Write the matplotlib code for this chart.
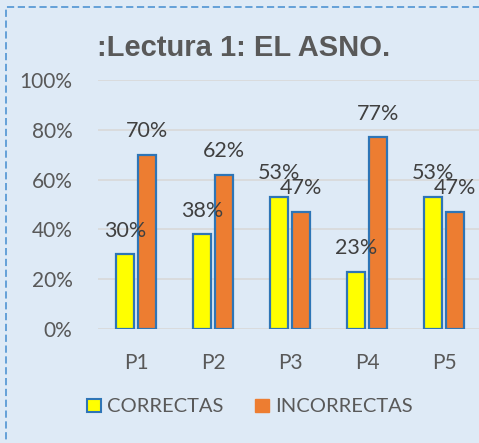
import matplotlib.pyplot as plt
from matplotlib.patches import Rectangle, Patch
import numpy as np

categorias = ["P1", "P2", "P3", "P4", "P5"]
correctas = [0.30, 0.38, 0.53, 0.23, 0.53]
incorrectas = [0.70, 0.62, 0.47, 0.77, 0.47]
yticks = [0, 0.2, 0.4, 0.6, 0.8, 1.0]

bg = "#DEEAF6"
amarillo = "#FFFF00"
naranja = "#ED7D31"
borde = "#2E75B6"
gris = "#595959"
fuente = "Lato"

W, H = 479, 443
fig = plt.figure(figsize=(W / 100, H / 100), dpi=100)
fig.patch.set_facecolor(bg)

# dashed frame (right/bottom fall outside the picture)
fig.add_artist(Rectangle((6 / W, -0.05), 1.1, (H - 7) / H + 0.05,
                         transform=fig.transFigure, fill=False,
                         edgecolor="#5B9BD5", linestyle=(0, (4, 2)), linewidth=1.3))

ax = fig.add_axes([97.5 / W, 114 / H, 385 / W, 249 / H])
ax.set_facecolor(bg)

x = np.arange(len(categorias))
bw = 0.234
off = 0.143
ax.bar(x - off, correctas, bw, color=amarillo, edgecolor=borde, linewidth=1.6, zorder=3)
ax.bar(x + off, incorrectas, bw, color=naranja, edgecolor=borde, linewidth=1.6, zorder=3)

for xi, v in zip(x - off, correctas):
    ax.annotate(f"{v:.0%}", (xi, v), xytext=(0, 17), textcoords="offset points",
                ha="center", va="center", fontsize=15.5, color="#404040", family=fuente)
for xi, v in zip(x + off, incorrectas):
    ax.annotate(f"{v:.0%}", (xi, v), xytext=(0, 17), textcoords="offset points",
                ha="center", va="center", fontsize=15.5, color="#404040", family=fuente)

ax.set_xlim(-0.5, 4.5)
ax.set_ylim(0, 1)
ax.set_yticks(yticks)
ax.set_yticklabels([f"{t:.0%}" for t in yticks])
ax.set_xticks(x)
ax.set_xticklabels(categorias)
ax.grid(axis="y", color="#D9D9D9", linewidth=1.2, zorder=0)
ax.tick_params(length=0, labelsize=15, labelcolor=gris)
ax.tick_params(axis="x", pad=17)
ax.tick_params(axis="y", pad=18)
for lab in ax.get_xticklabels() + ax.get_yticklabels():
    lab.set_family(fuente)
for s in ax.spines.values():
    s.set_visible(False)

fig.text(97 / W, 1 - 48 / H, ":Lectura 1: EL ASNO.", fontsize=21, fontweight="bold",
         color=gris, family="Liberation Sans", va="center", ha="left")

handles = [Patch(facecolor=amarillo, edgecolor=borde, linewidth=1.5),
           Patch(facecolor=naranja, edgecolor=naranja)]
fig.legend(handles, ["CORRECTAS", "INCORRECTAS"], loc="center left",
           bbox_to_anchor=(87 / W, 1 - 407 / H), ncol=2, frameon=False, borderpad=0,
           borderaxespad=0, prop={"family": fuente, "size": 14.5}, labelcolor=gris,
           handlelength=0.68, handleheight=0.68, handletextpad=0.3, columnspacing=1.6)

fig.savefig("out.png", dpi=100, facecolor=bg)
